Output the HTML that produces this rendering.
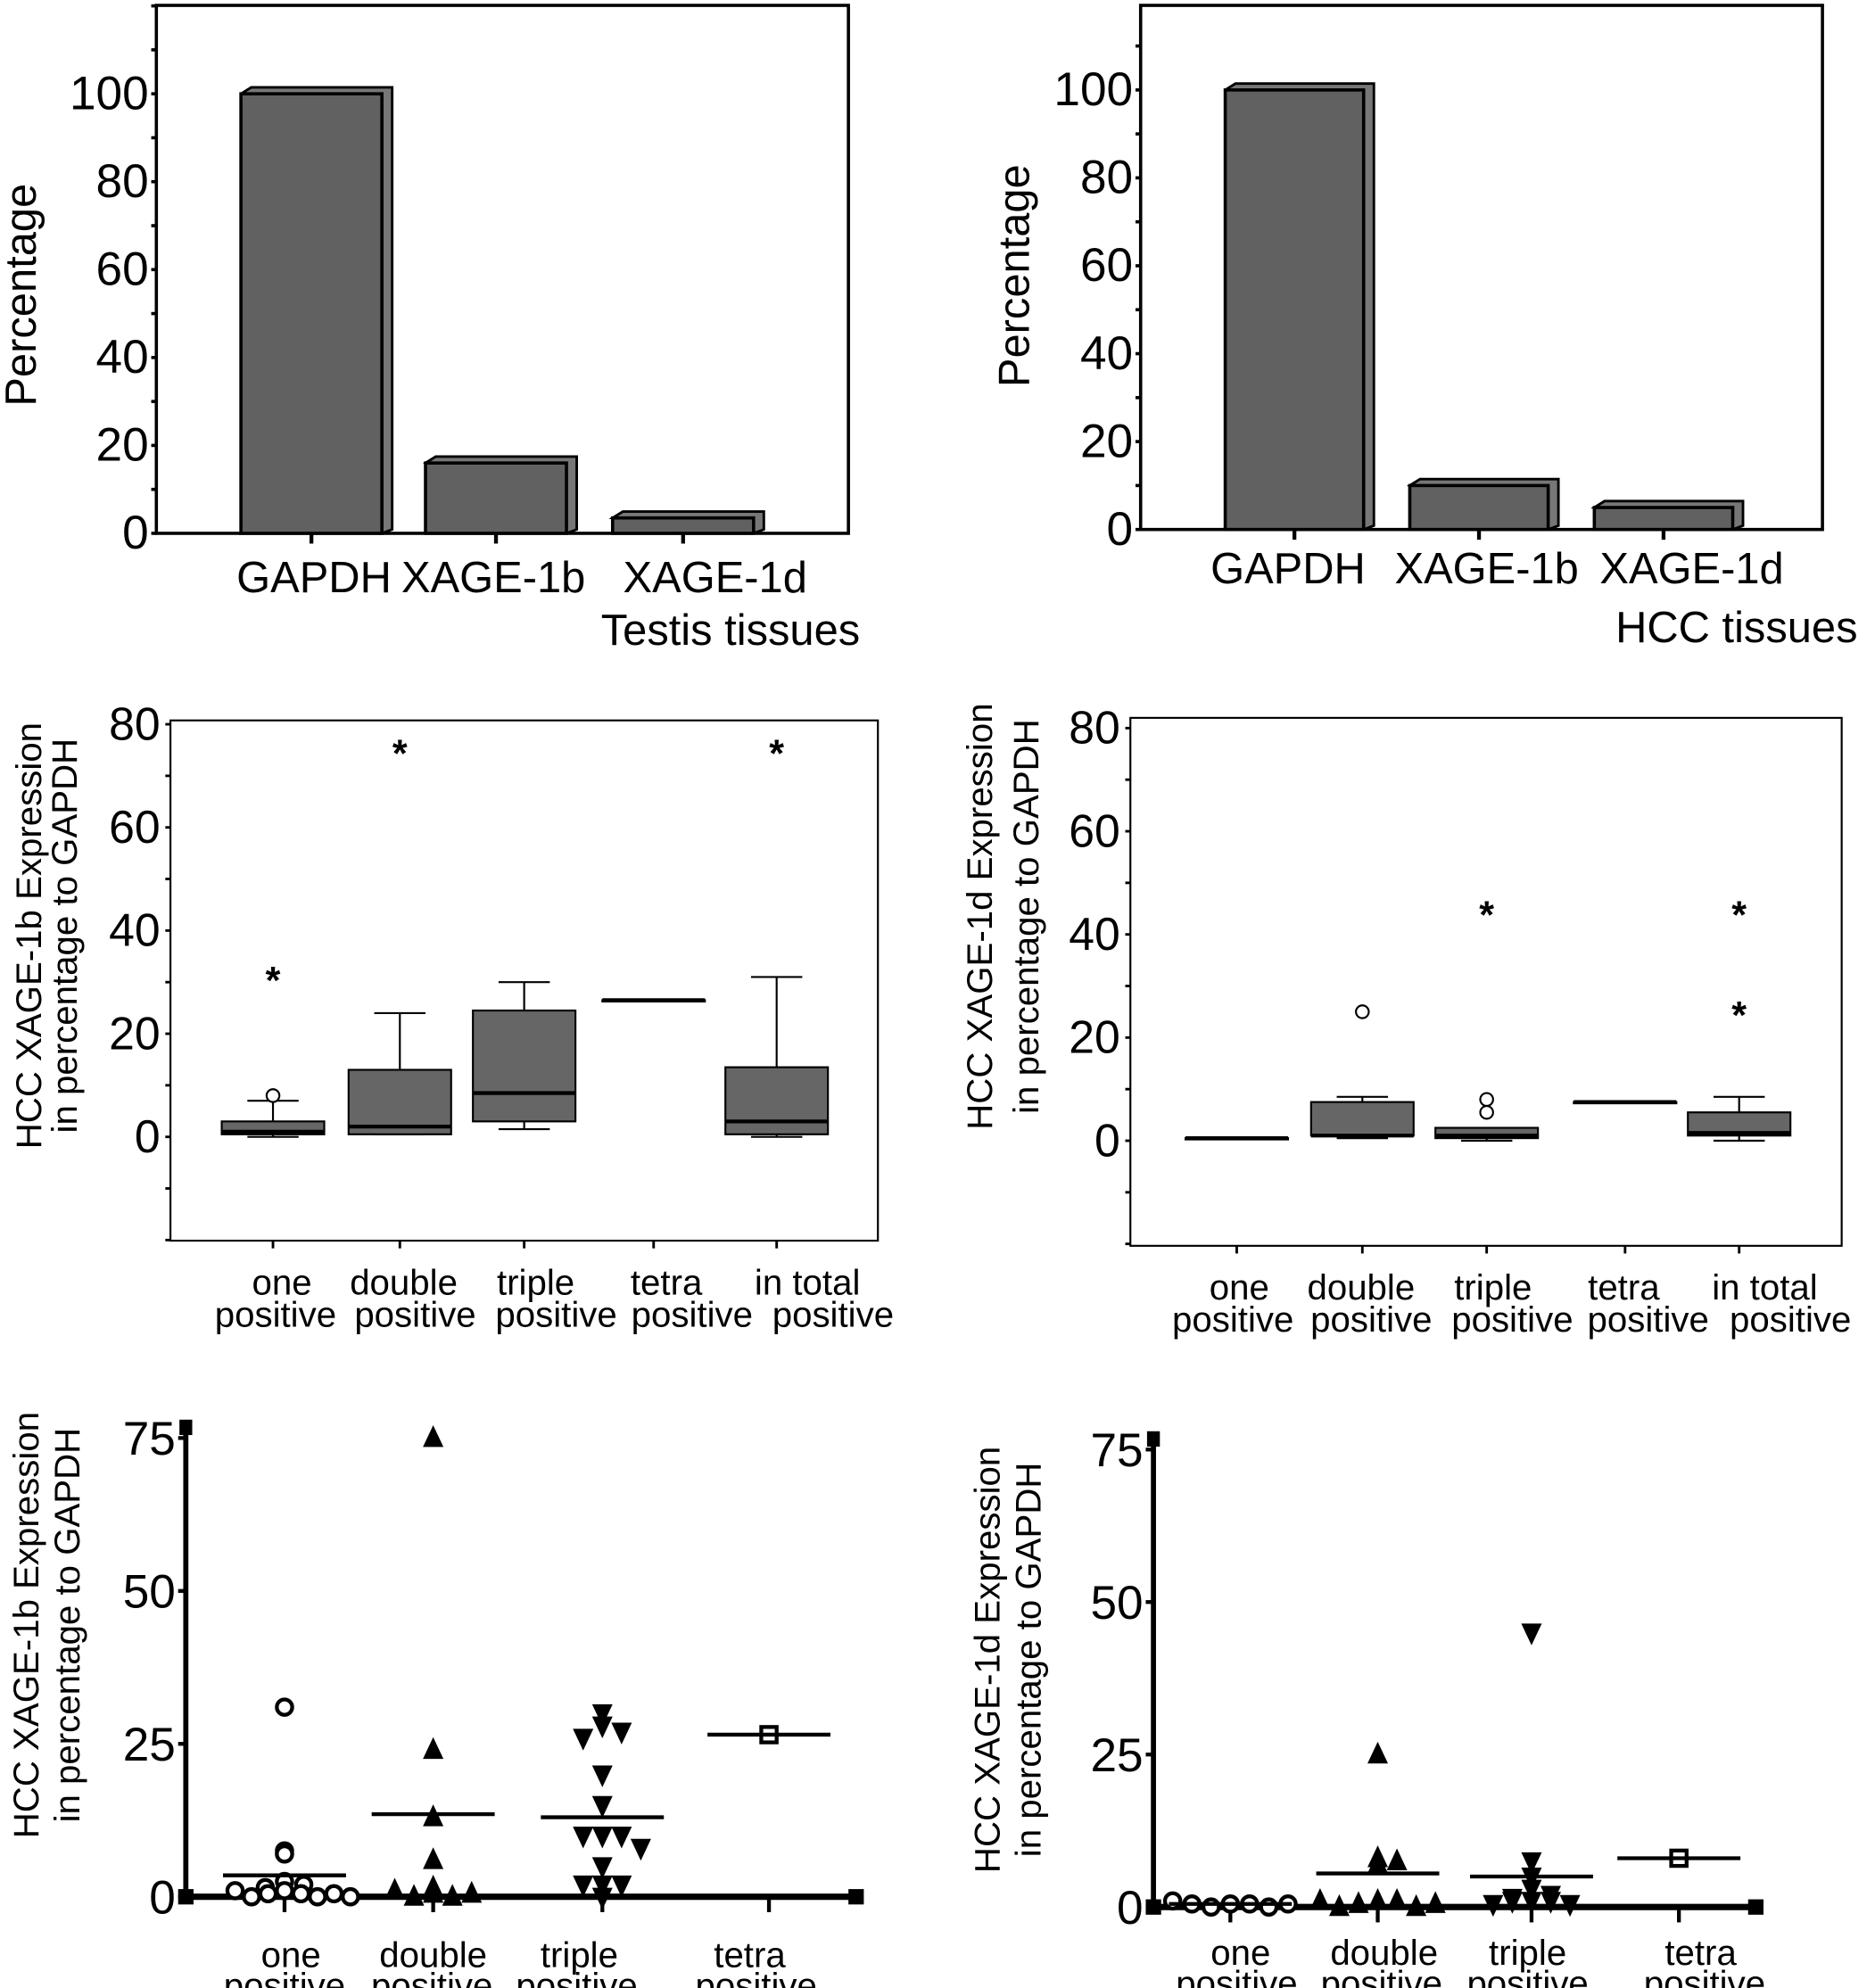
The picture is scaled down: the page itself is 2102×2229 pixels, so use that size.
<!DOCTYPE html>
<html><head><meta charset="utf-8"><style>
html,body{margin:0;padding:0;background:#fff}
svg{display:block}
text{font-family:"Liberation Sans Narrow","Liberation Sans",sans-serif;fill:#000}
.t{font-family:"Liberation Sans",sans-serif}
</style></head><body>
<svg id="fig" xmlns="http://www.w3.org/2000/svg" width="2102" height="2229" viewBox="0 0 1463 1551"></svg>
<script>
// ---- data ----
const barCats = ["GAPDH","XAGE-1b","XAGE-1d"];
const testisVals = [100,16,3.5];
const hccVals = [100,10,5];
const barTicks = [0,20,40,60,80,100];
const boxCats1 = ["one|positive","double|positive","triple|positive","tetra|positive","in total|positive"];
const box1bLow = [0,0.5,1.5,26.5,0];
const box1bQ1 = [0.5,0.5,3,26.5,0.5];
const box1bMed = [1,2,8.5,26.5,3];
const box1bQ3 = [3,13,24.5,26.5,13.5];
const box1bHigh = [7,24,30,26.5,31];
const box1bCircles = [[8],[],[],[],[]];
const box1bStars = [[31],[75],[],[],[75]];
const box1dLow = [0.5,0.5,0,7.5,0];
const box1dQ1 = [0.5,1,0.5,7.5,1];
const box1dMed = [0.5,1,1,7.5,1.5];
const box1dQ3 = [0.5,7.5,2.5,7.5,5.5];
const box1dHigh = [0.5,8.5,2.5,7.5,8.5];
const box1dCircles = [[],[25],[5.5,8],[],[]];
const box1dStars = [[],[],[44.5],[],[25,44.5]];
const boxTicks = [0,20,40,60,80];
const scatCats = ["one|positive","double|positive","triple|positive","tetra|positive"];
const s1bOne = [31,7.5,7,2.5,2,1.5,1,0.5,0.5,0,0,0.5,1,0];
const s1bDouble = [75,24,13,6,1.5,0.5,0,0,0.5,1];
const s1bTriple = [30,28,27,26,20,15,10,10,10,8,5,2,2,2,0];
const s1bTetra = [26.5];
const s1bMeans = [3.5,13.5,13,26.5];
const s1dOne = [0.5,0.5,0,0,0.5,0.5,1];
const s1dDouble = [25,8,7.5,7,1,1,0.5,0,0,0.5,1];
const s1dTriple = [45,7.5,5,3,2,1.5,1,1,1,0.5,0.5];
const s1dTetra = [8];
const s1dMeans = [0.5,5.5,5,8];
const scatTicks = [0,25,50,75];

const NS="http://www.w3.org/2000/svg";
const svg=document.getElementById('fig');
function el(tag,attrs,parent,txt){const e=document.createElementNS(NS,tag);for(const k in attrs)e.setAttribute(k,attrs[k]);if(txt!==undefined)e.textContent=txt;(parent||svg).appendChild(e);return e;}
function grp(name){const g=el('g',{});return g;}

// ---- bar charts ----
function barChart(name,L,R,T,B,y100,vals,cxs,bw,labelXs,labelY,title,titleX,titleY,ytX,ytY){
  const g=grp(name);
  const y=v=>B-(B-y100)*v/100;
  const fr=el('rect',{x:L,y:T,width:R-L,height:B-T,fill:'none',stroke:'#000','stroke-width':2.5},g);
  
  for(let v=0;v<=120;v+=10){const yy=y(v);if(yy<T-1)break;el('line',{x1:L-4,x2:L,y1:yy,y2:yy,stroke:'#000','stroke-width':2.5},g);}
  barTicks.forEach(v=>{const t=el('text',{x:L-6,y:y(v)+12,'font-size':37,'text-anchor':'end'},g,String(v));
    });
  vals.forEach((v,i)=>{const x0=cxs[i]-bw/2,yt=y(v),d=8;
    const p=el('polygon',{points:`${x0},${yt} ${x0+d},${yt-5} ${x0+bw+d},${yt-5} ${x0+bw+d},${B-3} ${x0+bw},${B}`,fill:'#777',stroke:'#000','stroke-width':2},g);
    
    const r=el('rect',{x:x0,y:yt,width:bw,height:B-yt,fill:'#616161',stroke:'#000','stroke-width':2.5},g);
    
    el('line',{x1:cxs[i],x2:cxs[i],y1:B,y2:B+8,stroke:'#000','stroke-width':3},g);
    const t=el('text',{x:labelXs[i],y:labelY,'font-size':34,'text-anchor':'middle',class:'t'},g,barCats[i]);
    });
  const tt=el('text',{x:titleX,y:titleY,'font-size':34,'text-anchor':'middle',class:'t'},g,title);
  
  const yt=el('text',{x:ytX,y:ytY,'font-size':34,'text-anchor':'middle',class:'t',transform:`rotate(-90 ${ytX} ${ytY})`},g,'Percentage');
  
}
barChart('bar-chart-testis',122,662,4,416,73,testisVals,[243,387,533],110,[245,385,558],462,'Testis tissues',570,503,28,230);
barChart('bar-chart-hcc',890,1422,4,413,70,hccVals,[1010,1154,1298],108,[1005,1160,1320],455,'HCC tissues',1355,501,803,215);

// ---- box plots ----
function star(g,x,y){const s=el('text',{x:x,y:y+13,'font-size':30,'font-weight':'bold','text-anchor':'middle',class:'t'},g,'*');
  }
function boxChart(name,L,R,T,B,y0,y80,cxs,lo,q1,md,q3,hi,circ,stars,labelXs,titleX1,titleX2,titleY,gene){
  const g=grp(name);
  const y=v=>y0-(y0-y80)*v/80;
  const fr=el('rect',{x:L,y:T,width:R-L,height:B-T,fill:'none',stroke:'#000','stroke-width':1.5},g);
  
  for(let v=-20;v<=80;v+=10)el('line',{x1:L-4,x2:L,y1:y(v),y2:y(v),stroke:'#000','stroke-width':2},g);
  boxTicks.forEach(v=>{const t=el('text',{x:L-8,y:y(v)+12,'font-size':36,'text-anchor':'end',class:'t'},g,String(v));
    });
  cxs.forEach((cx,i)=>{const w=80;
    el('line',{x1:cx,x2:cx,y1:B,y2:B+6,stroke:'#000','stroke-width':2},g);
    el('line',{x1:cx,x2:cx,y1:y(hi[i]),y2:y(lo[i]),stroke:'#000','stroke-width':1.5},g);
    el('line',{x1:cx-20,x2:cx+20,y1:y(hi[i]),y2:y(hi[i]),stroke:'#000','stroke-width':1.5},g);
    el('line',{x1:cx-20,x2:cx+20,y1:y(lo[i]),y2:y(lo[i]),stroke:'#000','stroke-width':1.5},g);
    const r=el('rect',{x:cx-w/2,y:y(q3[i]),width:w,height:Math.max(1,y(q1[i])-y(q3[i])),fill:'#666',stroke:'#000','stroke-width':1.5},g);
    
    el('line',{x1:cx-w/2,x2:cx+w/2,y1:y(md[i]),y2:y(md[i]),stroke:'#000','stroke-width':3},g);
    circ[i].forEach(v=>el('circle',{cx:cx,cy:y(v),r:5,fill:'#fff',stroke:'#000','stroke-width':1.5},g));
    stars[i].forEach(v=>star(g,cx,y(v)));
    const [a,b]=boxCats1[i].split('|');
    const t1=el('text',{x:labelXs[i][0],y:B+42,'font-size':28,'text-anchor':'middle',class:'t'},g,a);
    
    const t2=el('text',{x:labelXs[i][1],y:B+67,'font-size':28,'text-anchor':'middle',class:'t'},g,b);
    });
  const t1=el('text',{x:titleX1,y:titleY,'font-size':28,'text-anchor':'middle',class:'t',transform:`rotate(-90 ${titleX1} ${titleY})`},g,'HCC '+gene+' Expression');
  
  const t2=el('text',{x:titleX2,y:titleY,'font-size':28,'text-anchor':'middle',class:'t',transform:`rotate(-90 ${titleX2} ${titleY})`},g,'in percentage to GAPDH');
  
}
boxChart('box-plot-xage1b',133,685,562,968,887,565,[213,312,409,510,606],box1bLow,box1bQ1,box1bMed,box1bQ3,box1bHigh,box1bCircles,box1bStars,
  [[220,215],[315,324],[418,434],[520,540],[630,650]],32,60,730,'XAGE-1b');
boxChart('box-plot-xage1d',882,1437,560,972,890,568,[965,1063,1160,1268,1357],box1dLow,box1dQ1,box1dMed,box1dQ3,box1dHigh,box1dCircles,box1dStars,
  [[967,962],[1062,1070],[1165,1180],[1267,1286],[1377,1397]],774,810,715,'XAGE-1d');

// ---- scatter plots ----
function spread(vals,cx){ // deterministic horizontal jitter per duplicate, capped width
  const cnt={};vals.forEach(v=>{const k=Math.round(v/3);cnt[k]=(cnt[k]||0)+1;});
  const seen={};return vals.map(v=>{const k=Math.round(v/3);seen[k]=(seen[k]||0)+1;const n=seen[k]-1;
    const step=Math.min(15,90/Math.max(1,cnt[k]-1));const off=(n%2?1:-1)*Math.ceil(n/2)*step;return cx+off;});}
function marker(g,type,x,y){
  if(type==='circle')return el('circle',{cx:x,cy:y,r:6,fill:'#fff',stroke:'#000','stroke-width':3},g);
  if(type==='up')return el('polygon',{points:`${x},${y-10} ${x-8},${y+7} ${x+8},${y+7}`,fill:'#000'},g);
  if(type==='down')return el('polygon',{points:`${x},${y+10} ${x-8},${y-7} ${x+8},${y-7}`,fill:'#000'},g);
  return el('rect',{x:x-6,y:y-6,width:12,height:12,fill:'#fff',stroke:'#000','stroke-width':3},g);
}
function scatter(name,L,R,y0,y75,cxs,groups,means,labelXs,labY,titleX1,titleX2,titleY,gene){
  const g=grp(name);
  const y=v=>y0-(y0-y75)*v/75;
  el('line',{x1:L,x2:L,y1:y(77),y2:y0,stroke:'#000','stroke-width':4},g);
  el('line',{x1:L,x2:R,y1:y0,y2:y0,stroke:'#000','stroke-width':5},g);
  el('rect',{x:L-5,y:y(78),width:10,height:12,fill:'#000'},g);
  el('rect',{x:L-6,y:y0-6,width:12,height:12,fill:'#000'},g);
  el('rect',{x:R-6,y:y0-6,width:12,height:12,fill:'#000'},g);
  scatTicks.forEach(v=>{el('line',{x1:L-6,x2:L,y1:y(v),y2:y(v),stroke:'#000','stroke-width':3},g);
    const t=el('text',{x:L-8,y:y(v)+13,'font-size':37,'text-anchor':'end'},g,String(v));
    });
  const types=['circle','up','down','square'];
  cxs.forEach((cx,i)=>{
    el('line',{x1:cx,x2:cx,y1:y0,y2:y0+12,stroke:'#000','stroke-width':3},g);
    const xs=spread(groups[i],cx);
    groups[i].forEach((v,j)=>{const m=marker(g,types[i],xs[j],y(v));
      });
    const ml=el('line',{x1:cx-48,x2:cx+48,y1:y(means[i]),y2:y(means[i]),stroke:'#000','stroke-width':3},g);
    
    const [a,b]=scatCats[i].split('|');
    const t1=el('text',{x:labelXs[i][0],y:labY,'font-size':28,'text-anchor':'middle',class:'t'},g,a);
    
    const t2=el('text',{x:labelXs[i][1],y:labY+24,'font-size':28,'text-anchor':'middle',class:'t'},g,b);
    });
  const t1=el('text',{x:titleX1,y:titleY,'font-size':28,'text-anchor':'middle',class:'t',transform:`rotate(-90 ${titleX1} ${titleY})`},g,'HCC '+gene+' Expression');
  
  const t2=el('text',{x:titleX2,y:titleY,'font-size':28,'text-anchor':'middle',class:'t',transform:`rotate(-90 ${titleX2} ${titleY})`},g,'in percentage to GAPDH');
  
}
scatter('scatter-xage1b',145,668,1480,1122,[222,338,470,600],[s1bOne,s1bDouble,s1bTriple,s1bTetra],s1bMeans,
  [[227,222],[338,337],[452,450],[585,590]],1535,30,62,1268,'XAGE-1b');
scatter('scatter-xage1d',900,1370,1488,1131,[960,1075,1195,1310],[s1dOne,s1dDouble,s1dTriple,s1dTetra],s1dMeans,
  [[968,965],[1080,1078],[1192,1192],[1327,1330]],1533,780,812,1295,'XAGE-1d');
</script>
</body></html>
